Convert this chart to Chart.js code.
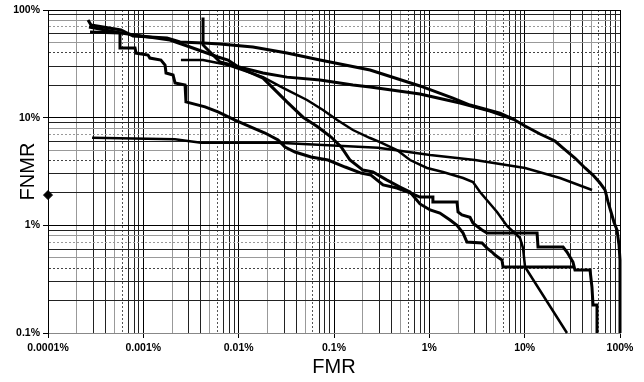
<!DOCTYPE html>
<html>
<head>
<meta charset="utf-8">
<script src="https://cdn.jsdelivr.net/npm/chart.js@4/dist/chart.umd.min.js"></script>
<style>
  html, body { margin: 0; padding: 0; background: #fff; }
  #wrap { width: 644px; height: 382px; }
</style>
</head>
<body>
<div id="wrap"><canvas id="detChart" width="644" height="382"></canvas></div>
<script>
// all values in percent: [FMR, FNMR]
const curveA = [[0.000263, 80.7], [0.000283, 72.5], [0.000583, 65.2], [0.00078, 57.3], [0.00177, 54.9],
  [0.00243, 50.4], [0.00423, 49.3], [0.00637, 48.3], [0.0141, 45.3], [0.0321, 39.8], [0.0713, 34.3],
  [0.239, 27.7], [0.798, 19.7], [1.77, 15.2], [2.67, 13.1], [5.51, 11.0], [7.55, 9.71], [10.1, 8.36],
  [14.5, 7.05], [20.8, 6.07], [25.3, 5.22], [33.7, 4.22], [43.0, 3.41], [52.1, 2.93], [61.7, 2.47],
  [69.6, 2.13], [74.9, 1.65], [80.5, 1.33], [86.5, 1.07], [93.1, 0.904], [97.7, 0.656], [100, 0.476], [100, 0.1]];

const curveB = [[0.00423, 85], [0.00423, 47.3], [0.005, 40.7], [0.00637, 32.9], [0.0103, 29.5], [0.018, 26.0],
  [0.0321, 23.8], [0.0713, 22.4], [0.158, 20.1], [0.239, 19.3], [0.798, 16.6], [2.1, 13.7], [4.33, 11.5], [7.55, 9.71]];

const curveC = [[0.000276, 62.4], [0.000569, 61.1], [0.000569, 44.4], [0.000818, 44.4], [0.000838, 39.8],
  [0.00112, 38.2], [0.00117, 35.8], [0.00153, 34.3], [0.00169, 30.8], [0.00173, 26.0], [0.00205, 24.9],
  [0.00215, 21.0], [0.00274, 20.1], [0.0028, 14.0], [0.00444, 12.6], [0.00607, 11.3], [0.00917, 9.51],
  [0.0135, 8.18], [0.0189, 7.2], [0.0259, 6.2], [0.0306, 5.34], [0.039, 4.8], [0.0574, 4.31], [0.0865, 4.04],
  [0.131, 3.48], [0.192, 3.06], [0.244, 2.93], [0.327, 2.37], [0.458, 2.22], [0.627, 2.0], [0.798, 1.83],
  [1.09, 1.83], [1.09, 1.65], [1.95, 1.65], [2.0, 1.33], [2.2, 1.25], [2.67, 1.19], [2.87, 1.05], [3.24, 0.964],
  [3.57, 0.904], [4.03, 0.848], [13.5, 0.848], [13.8, 0.629], [25.3, 0.629], [27.8, 0.565], [32.1, 0.456],
  [33.7, 0.384], [48.5, 0.384], [50.8, 0.267], [52.1, 0.182], [57.4, 0.182], [57.4, 0.1]];

const curveD = [[0.00248, 34.3], [0.00423, 34.3], [0.00773, 30.8], [0.018, 23.8], [0.0292, 18.9], [0.0521, 14.6],
  [0.0767, 11.8], [0.108, 9.51], [0.158, 7.68], [0.239, 6.47], [0.304, 5.94], [0.458, 5.0], [0.627, 4.04],
  [0.947, 3.41], [1.39, 3.13], [2.26, 2.75], [2.87, 2.52], [3.4, 2.04], [5.13, 1.33], [6.53, 0.985],
  [8.93, 0.762], [9.61, 0.615], [10.1, 0.41], [27.8, 0.1]];

const curveE = [[0.000269, 69.5], [0.000583, 61.1], [0.0019, 52.6], [0.00309, 45.3], [0.00607, 36.6],
  [0.00773, 34.3], [0.0103, 28.9], [0.018, 23.3], [0.0321, 14.0], [0.0473, 10.1], [0.0679, 8.18],
  [0.0931, 6.61], [0.119, 5.34], [0.147, 4.04], [0.201, 3.26], [0.256, 3.13], [0.36, 2.63], [0.492, 2.27],
  [0.627, 2.04], [0.798, 1.58], [1.02, 1.39], [1.29, 1.3], [1.65, 1.12], [1.95, 1.0], [2.26, 0.848],
  [2.48, 0.7], [3.57, 0.685], [4.03, 0.615], [4.54, 0.565], [4.89, 0.53], [5.78, 0.476], [5.93, 0.41], [33.7, 0.41]];

const curveF = [[0.00029, 6.5], [0.00215, 6.29], [0.00403, 5.85], [0.0259, 5.85], [0.29, 5.26], [1.02, 4.5],
  [3.01, 4.04], [10.1, 3.41], [23.5, 2.75], [50.9, 2.13]];

const marker = [[0.0001, 1.91]];

const xMajor = [0.0001, 0.001, 0.01, 0.1, 1, 10, 100];
const yMajor = [0.1, 1, 10, 100];

// 1..9 per decade
const allTicks = majors => {
  const out = [];
  majors.forEach((m, i) => {
    out.push(m);
    if (i < majors.length - 1) {
      for (let d = 2; d <= 9; d++) out.push(Number((d * m).toPrecision(8)));
    }
  });
  return out;
};
const isMajor = v => Math.abs(Math.log10(v) - Math.round(Math.log10(v))) < 1e-6;
const digit = v => Math.round(v / Math.pow(10, Math.floor(Math.log10(v) + 1e-9)));

// the grid in the original is a mix of black, grey and dotted lines
const xGrid = { 1: '#000', 2: '#999', 3: '#222', 4: '#222', 5: '#999', 6: '#555', 7: '#222', 8: '#222', 9: '#222' };
const yGrid = { 1: '#000', 2: '#222', 3: '#222', 4: '#444', 5: '#999', 6: '#222', 7: '#999', 8: '#999', 9: '#222' };
const xDotted = [6];
const yDotted = [4, 7];

const lineSet = (pts, width) => ({
  data: pts.map(([x, y]) => ({ x, y })),
  borderColor: '#000',
  borderWidth: width,
  pointRadius: 0,
  tension: 0,
  fill: false,
  clip: false
});

const tickFont = { family: 'Liberation Sans, Arial, sans-serif', size: 10.5, weight: 'bold' };
const titleFont = { family: 'Liberation Sans, Arial, sans-serif', size: 20 };

const ctx = document.getElementById('detChart').getContext('2d');
new Chart(ctx, {
  type: 'line',
  data: {
    datasets: [
      lineSet(curveF, 2.5),
      lineSet(curveD, 2.5),
      lineSet(curveE, 3),
      lineSet(curveC, 3),
      lineSet(curveB, 3),
      lineSet(curveA, 3),
      {
        data: marker.map(([x, y]) => ({ x, y })),
        showLine: false,
        pointStyle: 'rectRot',
        pointRadius: 4.5,
        backgroundColor: '#000',
        borderColor: '#000',
        clip: false
      }
    ]
  },
  options: {
    responsive: false,
    animation: false,
    layout: { padding: { top: 10, right: 24, left: 0, bottom: 0 } },
    plugins: { legend: { display: false }, tooltip: { enabled: false } },
    scales: {
      x: {
        type: 'logarithmic',
        min: 0.0001,
        max: 100,
        afterBuildTicks: s => { s.ticks = allTicks(xMajor).map(v => ({ value: v })); },
        afterFit: s => { s.height = 49; },
        ticks: {
          autoSkip: false, maxRotation: 0, padding: 4, color: '#000', font: tickFont,
          callback: v => isMajor(v) ? v + '%' : ''
        },
        grid: {
          lineWidth: 1,
          tickLength: 5,
          color: c => c.tick ? xGrid[digit(c.tick.value)] : '#000',
          tickColor: c => c.tick && isMajor(c.tick.value) ? '#000' : 'rgba(0,0,0,0)'
        },
        border: {
          color: '#888',
          dash: c => c.tick && xDotted.includes(digit(c.tick.value)) ? [2, 2] : []
        },
        title: { display: true, text: 'FMR', color: '#000', font: titleFont, padding: { top: 0, bottom: 3 } }
      },
      y: {
        type: 'logarithmic',
        min: 0.1,
        max: 100,
        afterBuildTicks: s => { s.ticks = allTicks(yMajor).map(v => ({ value: v })); },
        afterFit: s => { s.width = 48; },
        ticks: {
          autoSkip: false, padding: 3, color: '#000', font: tickFont,
          callback: v => isMajor(v) ? v + '%' : ''
        },
        grid: {
          lineWidth: 1,
          tickLength: 5,
          color: c => c.tick ? (c.tick.value === 0.1 ? '#888' : yGrid[digit(c.tick.value)]) : '#000',
          tickColor: c => c.tick && isMajor(c.tick.value) ? '#000' : 'rgba(0,0,0,0)'
        },
        border: {
          color: '#000',
          dash: c => c.tick && yDotted.includes(digit(c.tick.value)) ? [2, 2] : []
        },
        title: { display: true, text: 'FNMR', color: '#000', font: titleFont, padding: { top: 16, bottom: 0 } }
      }
    }
  }
});
</script>
</body>
</html>
